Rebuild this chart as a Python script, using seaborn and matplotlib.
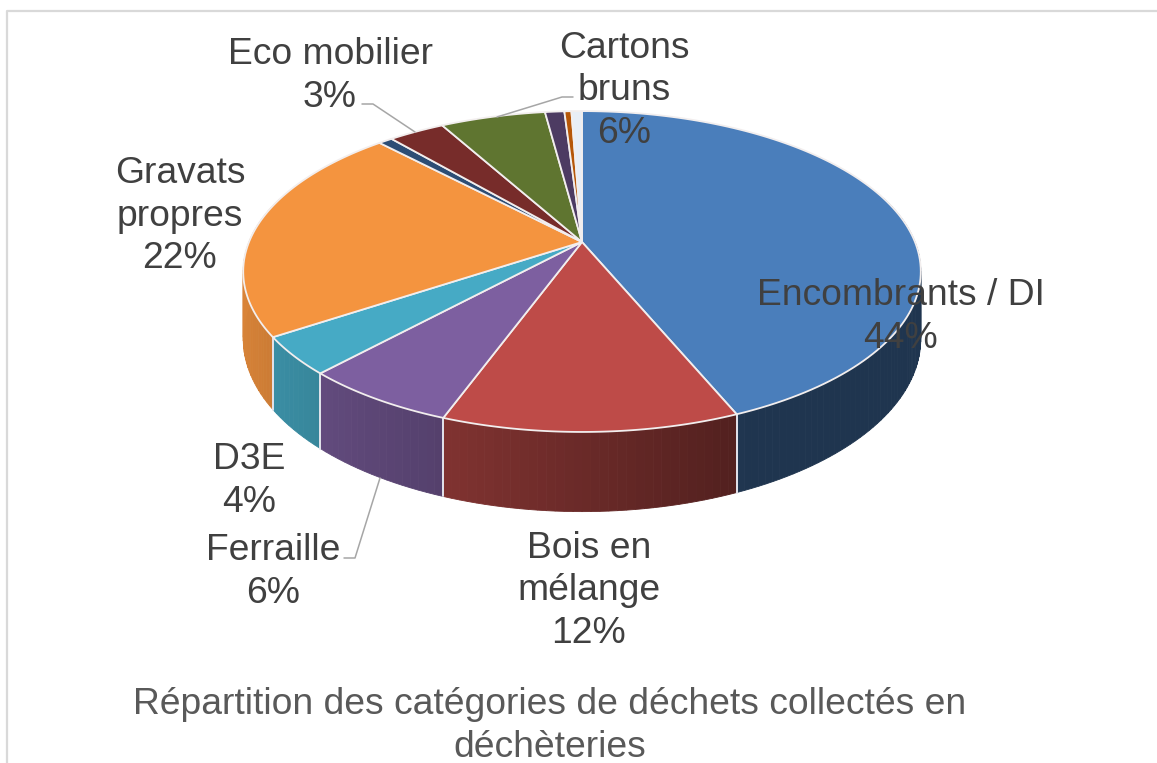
import numpy as np
import matplotlib
matplotlib.use("Agg")
import matplotlib.pyplot as plt
import seaborn as sns

# Data
slices = ["Encombrants / DI", "Bois en mélange", "Ferraille", "D3E", "Gravats propres",
          "Divers 1", "Eco mobilier", "Cartons bruns", "Divers 2", "Divers 3", "Divers 4"]
shares = [43.7, 11.9, 6.3, 3.8, 22.2, 0.8, 3.2, 6.0, 1.1, 0.4, 0.6]
colors = ["#4A7EBB", "#BE4B48", "#7D5FA0", "#46AAC5", "#F4943F", "#2C4D75",
          "#772C2A", "#5F7530", "#4D3B62", "#B65708", "#E8EEF6"]
title = "Répartition des catégories de déchets collectés en\ndéchèteries"

labels = ["Encombrants / DI\n44%", "Bois en\nmélange\n12%", "Ferraille\n6%", "D3E\n4%",
          "Gravats\npropres\n22%", "Eco mobilier\n3%", "Cartons\nbruns\n6%"]
label_x = [901, 589, 273, 249, 180, 330, 624]
label_y = [317, 591, 572, 481, 216, 76, 91]
leaders = [([362, 373, 415], [104, 104, 132]),
           ([573, 562, 497], [97, 97, 117]),
           ([344, 355, 380], [558, 558, 478])]

# Pie geometry in pixels (perspective view of a disc)
X0, Y0 = 582, 242
A, B, P = 333, 155, 0.184
DEPTH = 65


def project(theta, z=0):
    u, v = np.sin(theta), np.cos(theta)
    w = 1 + P * v
    return X0 + A * u / w, Y0 - (B * v + z) / w


sns.set_theme(style="white")
plt.rcParams["font.family"] = ["Liberation Sans", "DejaVu Sans"]
palette = sns.color_palette(colors)

fig = plt.figure(figsize=(11.57, 7.63), dpi=100)
ax = fig.add_axes([0, 0, 1, 1])
ax.set_xlim(0, 1157)
ax.set_ylim(763, 0)
ax.axis("off")

# frame of the chart area
ax.plot([7, 7, 1157], [763, 11, 11], color="#D9D9D9", lw=1.6)

edges = np.cumsum([0] + shares) / sum(shares) * 2 * np.pi

# side wall, shaded from the left to the right
for i, col in enumerate(palette):
    steps = np.linspace(edges[i], edges[i + 1], max(2, int(shares[i] * 3)))
    for t0, t1 in zip(steps[:-1], steps[1:]):
        ts = np.linspace(t0, t1, 6)
        if np.cos(ts).max() > 0.3:
            continue
        shade = np.clip(0.56 - 0.33 * np.sin((t0 + t1) / 2), 0.42, 0.9)
        wall = tuple(c * shade for c in col)
        xt, yt = project(ts)
        xb, yb = project(ts, -DEPTH)
        ax.fill(np.r_[xt, xb[::-1]], np.r_[yt, yb[::-1]], color=wall, lw=0.6, zorder=2)

# white lines between the walls
for t in edges[:-1]:
    if np.cos(t) < -0.2:
        xt, yt = project(t)
        xb, yb = project(t, -DEPTH)
        ax.plot([xt, xb], [yt, yb], color="#E4E4EC", lw=1.4, zorder=3)

# top of the pie
for i, col in enumerate(palette):
    ts = np.linspace(edges[i], edges[i + 1], 120)
    xt, yt = project(ts)
    ax.fill(np.r_[X0, xt], np.r_[Y0, yt], facecolor=col, edgecolor="#F2EEEE", lw=1.3,
            joinstyle="round", zorder=4)

for lx, ly in leaders:
    ax.plot(lx, ly, color="#A6A6A6", lw=1.1, zorder=5)

for text, x, y in zip(labels, label_x, label_y):
    ax.text(x, y, text, ha="center", va="center", fontsize=26.8, color="#404040",
            linespacing=1.28, zorder=6)

ax.text(550, 726, title, ha="center", va="center", fontsize=26.8, color="#595959",
        linespacing=1.28, zorder=6)

fig.savefig("out.png", dpi=100, facecolor="white")
